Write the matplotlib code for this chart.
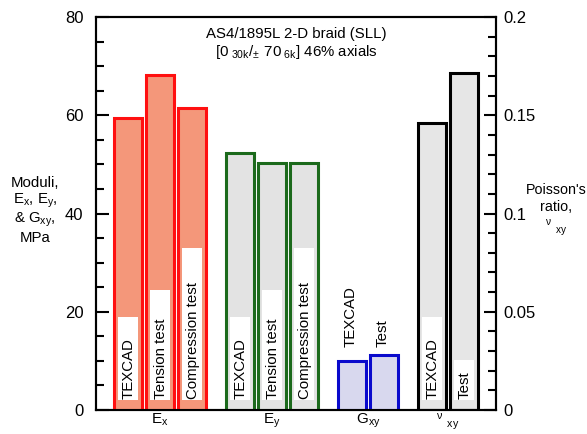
import matplotlib
matplotlib.use('Agg')
import matplotlib.pyplot as plt
from matplotlib.ticker import MultipleLocator

plt.rcParams['font.family'] = ['Liberation Sans', 'DejaVu Sans']
plt.rcParams['mathtext.default'] = 'regular'
plt.rcParams['font.size'] = 10

# moduli (MPa) per property and test
ex_labels = ["TEXCAD", "Tension test", "Compression test"]
ex_values = [59.4, 68.2, 61.5]
ey_labels = ["TEXCAD", "Tension test", "Compression test"]
ey_values = [52.3, 50.3, 50.3]
gxy_labels = ["TEXCAD", "Test"]
gxy_values = [10.0, 11.2]
# Poisson's ratio (right axis)
nu_labels = ["TEXCAD", "Test"]
nu_values = [0.146, 0.1715]

group_names = ["$E_x$", "$E_y$", "$G_{xy}$", r"$^{\nu}\ _{xy}$"]

# bar positions on the x axis
ex_pos = [1, 2, 3]
ey_pos = [4.5, 5.5, 6.5]
gxy_pos = [8, 9]
nu_pos = [10.5, 11.5]
group_pos = [2, 5.5, 8.5, 11]

# height of white label boxes (left axis units)
box_tops = {"TEXCAD": 19, "Tension test": 24.4, "Compression test": 33, "Test": 10.2}

fig = plt.figure(figsize=(5.87, 4.34), dpi=100)
ax = fig.add_axes([0.1635, 0.0553, 0.6815, 0.9055])
ax2 = ax.twinx()

w = 0.9
bw = 0.62
fs = 10.8


def draw_group(a, pos, vals, labels, face, edge, scale, boxed=True):
    a.bar(pos, vals, width=w, color=face, edgecolor=edge, linewidth=2.2, zorder=2)
    if not boxed:
        return
    for p, lab in zip(pos, labels):
        top = box_tops[lab] * scale
        a.bar(p, top - 2 * scale, bottom=2 * scale, width=bw, color='white',
              edgecolor='none', zorder=3)
        a.text(p + 0.02, 2.3 * scale, lab, rotation=90, ha='center', va='bottom',
               fontsize=fs, zorder=4)


draw_group(ax, ex_pos, ex_values, ex_labels, '#f4977a', '#ff1010', 1)
draw_group(ax, ey_pos, ey_values, ey_labels, '#e3e3e3', '#1c6a1c', 1)
draw_group(ax, gxy_pos, gxy_values, gxy_labels, '#d8d8ee', '#0a0acc', 1, boxed=False)
for p, lab in zip(gxy_pos, gxy_labels):
    ax.text(p - 0.05, 12.8, lab, rotation=90, ha='center', va='bottom', fontsize=fs)
draw_group(ax2, nu_pos, nu_values, nu_labels, '#e6e6e6', 'black', 0.0025)

ax.set_xlim(0, 12.5)
ax.set_ylim(0, 80)
ax2.set_ylim(0, 0.2)

ax.yaxis.set_major_locator(MultipleLocator(20))
ax.yaxis.set_minor_locator(MultipleLocator(5))
ax2.yaxis.set_major_locator(MultipleLocator(0.05))
ax2.yaxis.set_minor_locator(MultipleLocator(0.01))
ax2.set_yticks([0, 0.05, 0.1, 0.15, 0.2])
ax2.set_yticklabels(['0', '0.05', '0.1', '0.15', '0.2'])

ax.tick_params(axis='y', which='major', direction='in', length=9, width=1.5, pad=9, labelsize=12)
ax.tick_params(axis='y', which='minor', direction='in', length=6, width=1.5)
ax2.tick_params(axis='y', which='major', direction='in', length=9, width=1.5, pad=5, labelsize=12)
ax2.tick_params(axis='y', which='minor', direction='in', length=6, width=1.5)

ax.set_xticks(group_pos)
ax.set_xticklabels(group_names, fontsize=11)
ax.tick_params(axis='x', length=0, pad=1)

for a in (ax, ax2):
    for s in a.spines.values():
        s.set_linewidth(1.5)

ax.set_zorder(1)
ax.patch.set_visible(False)

fig.text(0.06, 0.515, "Moduli,\n$E_x$, $E_y$,\n& $G_{xy}$,\nMPa", ha='center', va='center',
         fontsize=fs, linespacing=1.1)
fig.text(0.948, 0.515, "Poisson's\nratio,\n" + r"$^{\nu}\ _{xy}$", ha='center', va='center',
         fontsize=10.3, linespacing=1.25)

ax.text(0.5, 0.975, "AS4/1895L 2-D braid (SLL)", transform=ax.transAxes, ha='center',
        va='top', fontsize=fs)
ax.text(0.5, 0.935, r"$[0_{\ 30k}/_{\pm}\ 70_{\ 6k}]$ 46% axials", transform=ax.transAxes,
        ha='center', va='top', fontsize=fs)

fig.savefig('out.png', dpi=100)
